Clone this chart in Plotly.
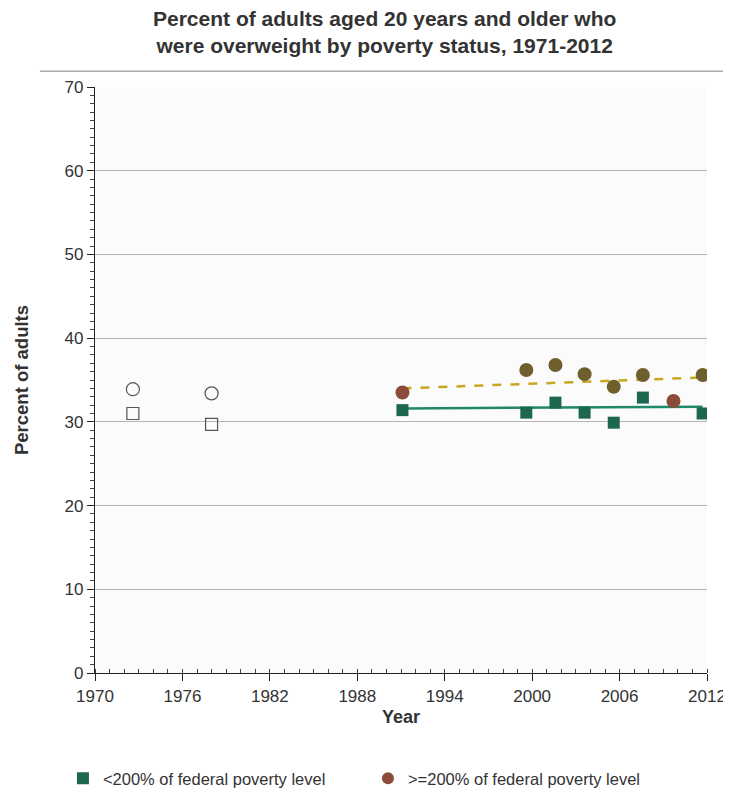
import plotly.graph_objects as go

# Historical (open markers) survey midpoints
early_years = [1972.6, 1978.0]
early_below = [31.0, 29.7]
early_above = [33.9, 33.4]

# Recent surveys
years = [1991.1, 1999.6, 2001.6, 2003.6, 2005.6, 2007.6, 2009.7, 2011.7]
below_200 = [31.4, 31.1, 32.3, 31.1, 29.9, 32.9, None, 31.0]
above_200 = [33.5, 36.2, 36.8, 35.7, 34.2, 35.6, 32.5, 35.6]
above_highlight = [True, False, False, False, False, False, True, False]

# Trend lines (endpoints)
trend_years = [1991.1, 2011.7]
trend_below = [31.6, 31.8]
trend_above = [34.0, 35.3]

x_ticks = [1970, 1976, 1982, 1988, 1994, 2000, 2006, 2012]
y_ticks = [0, 10, 20, 30, 40, 50, 60, 70]

TEAL = "#1d6650"
OLIVE = "#6e5f2c"
RED = "#8a4b3a"
FONT = "Liberation Sans, Arial, sans-serif"
TXT = "#333333"

fig = go.Figure()

fig.add_trace(go.Scatter(x=trend_years, y=trend_below, mode="lines",
                         line=dict(color="#21876a", width=2.5), showlegend=False, hoverinfo="skip"))
fig.add_trace(go.Scatter(x=trend_years, y=trend_above, mode="lines",
                         line=dict(color="#c9a61f", width=2.5, dash="dash"), showlegend=False, hoverinfo="skip"))

fig.add_trace(go.Scatter(x=early_years, y=early_above, mode="markers",
                         marker=dict(symbol="circle-open", size=13, color="#555555", line=dict(width=1.2)),
                         showlegend=False))
fig.add_trace(go.Scatter(x=early_years, y=early_below, mode="markers",
                         marker=dict(symbol="square-open", size=12, color="#555555", line=dict(width=1.2)),
                         showlegend=False))

fig.add_trace(go.Scatter(x=years, y=below_200, mode="markers", name="<200% of federal poverty level",
                         marker=dict(symbol="square", size=12, color=TEAL)))
fig.add_trace(go.Scatter(x=years, y=above_200, mode="markers", name=">=200% of federal poverty level",
                         marker=dict(symbol="circle", size=14,
                                     color=[RED if h else OLIVE for h in above_highlight])))

fig.update_layout(
    width=723, height=780,
    margin=dict(l=87, r=24, t=79, b=115),
    paper_bgcolor="white", plot_bgcolor="#fbfbfb",
    font=dict(family=FONT, size=17, color=TXT),
    title=dict(text="<b>Percent of adults aged 20 years and older who<br>were overweight by poverty status, 1971-2012</b>",
               x=0.521, xanchor="center", y=0.977, yanchor="top",
               font=dict(family=FONT, size=21, color=TXT)),
    xaxis=dict(range=[1970, 2012], tickvals=x_ticks, showgrid=False, zeroline=False, automargin=False,
               showline=True, linecolor="#222222", linewidth=1.2,
               ticks="outside", ticklen=7, tickcolor="#222222", tickfont=dict(size=17, color=TXT),
               minor=dict(dtick=1, ticks="inside", ticklen=4, tickcolor="#444444"),
               title=dict(text="<b>Year</b>", standoff=5, font=dict(size=18, color=TXT))),
    yaxis=dict(range=[0, 70], tickvals=y_ticks, showgrid=True, gridcolor="#b5b5b5", gridwidth=1,
               zeroline=False, showline=True, linecolor="#222222", linewidth=1.2, automargin=False,
               ticks="outside", ticklen=7, tickcolor="#222222", tickfont=dict(size=17, color=TXT),
               minor=dict(dtick=1, ticks="outside", ticklen=4, tickcolor="#444444", showgrid=False),
               title=dict(text="<b>Percent of adults</b>", standoff=31, font=dict(size=18.5, color=TXT))),
    legend=dict(orientation="h", xref="container", x=0.076, xanchor="left",
                yref="container", y=0.012, yanchor="middle",
                entrywidth=260, entrywidthmode="pixels", font=dict(size=16.5, color=TXT),
                itemsizing="constant"),
    shapes=[dict(type="line", xref="paper", yref="paper", x0=-0.09, x1=1.04, y0=1.027, y1=1.027,
                 line=dict(color="#aaaaaa", width=1.5))],
)

fig.write_html("out.html")
